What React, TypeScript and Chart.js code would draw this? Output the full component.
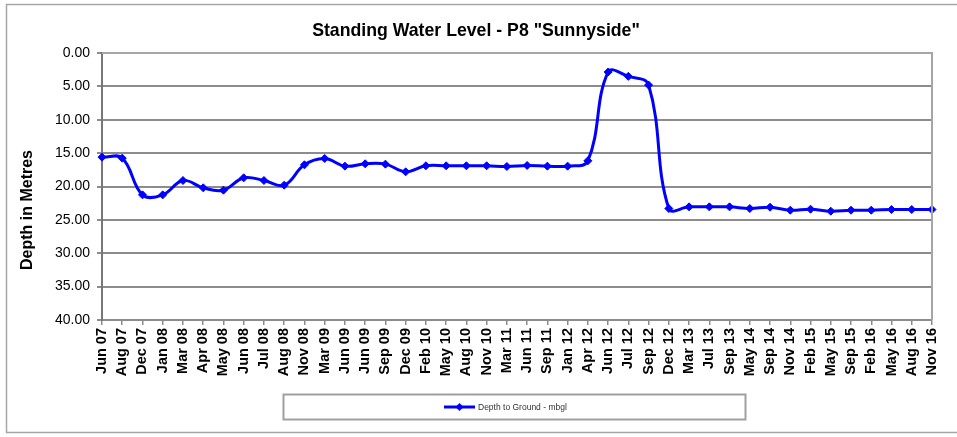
import React, { useEffect, useRef } from "react";
import { Chart, registerables } from "chart.js";

Chart.register(...registerables);

const TITLE = 'Standing Water Level - P8 "Sunnyside"';
const Y_TITLE = "Depth in Metres";
const SERIES_NAME = "Depth to Ground - mbgl";

const categories = [
  "Jun 07", "Aug 07", "Dec 07", "Jan 08", "Mar 08", "Apr 08", "May 08", "Jun 08",
  "Jul 08", "Aug 08", "Nov 08", "Mar 09", "Jun 09", "Jun 09", "Sep 09", "Dec 09",
  "Feb 10", "May 10", "Aug 10", "Nov 10", "Mar 11", "Jun 11", "Sep 11", "Jan 12",
  "Apr 12", "Jun 12", "Jul 12", "Sep 12", "Dec 12", "Mar 13", "Jul 13", "Sep 13",
  "May 14", "Sep 14", "Nov 14", "Feb 15", "May 15", "Sep 15", "Feb 16", "May 16",
  "Aug 16", "Nov 16",
];

const depthValues = [
  15.6, 15.75, 21.25, 21.25, 19.1, 20.2, 20.55, 18.7,
  19.1, 19.8, 16.75, 15.8, 16.95, 16.6, 16.65, 17.8,
  16.9, 16.9, 16.9, 16.9, 17.0, 16.85, 16.95, 16.95,
  16.15, 2.85, 3.5, 4.8, 23.3, 23.05, 23.05, 23.05,
  23.3, 23.1, 23.55, 23.4, 23.7, 23.55, 23.55, 23.45,
  23.45, 23.45,
];

const yMin = 0;
const yMax = 40;
const yStep = 5;

const FONT = "'Liberation Sans', Arial, sans-serif";
const BLUE = "#0000ff";

const decorPlugin = {
  id: "decor",
  beforeDraw(chart: any) {
    const { ctx } = chart;
    ctx.save();
    ctx.fillStyle = "#ffffff";
    ctx.fillRect(0, 0, chart.width, chart.height);
    ctx.restore();
  },
  afterDraw(chart: any) {
    const { ctx, chartArea } = chart;
    ctx.save();
    // outer border
    ctx.strokeStyle = "#a6a6a6";
    ctx.lineWidth = 1.5;
    ctx.strokeRect(6.5, 4.5, chart.width + 10, 428);

    // plot area top/right border
    ctx.strokeStyle = "#a6a6a6";
    ctx.lineWidth = 2;
    ctx.beginPath();
    ctx.moveTo(chartArea.left, chartArea.top);
    ctx.lineTo(chartArea.right, chartArea.top);
    ctx.lineTo(chartArea.right, chartArea.bottom);
    ctx.stroke();

    // title
    ctx.fillStyle = "#000";
    ctx.font = `bold 17.7px ${FONT}`;
    ctx.textAlign = "center";
    ctx.textBaseline = "middle";
    ctx.fillText(TITLE, 476, 31);

    // y title
    ctx.save();
    ctx.translate(28, 210);
    ctx.rotate(-Math.PI / 2);
    ctx.font = `bold 16px ${FONT}`;
    ctx.fillText(Y_TITLE, 0, 0);
    ctx.restore();

    // legend
    ctx.strokeStyle = "#a0a0a0";
    ctx.lineWidth = 2;
    ctx.strokeRect(283.5, 394.5, 462, 25);
    ctx.strokeStyle = BLUE;
    ctx.lineWidth = 3;
    ctx.beginPath();
    ctx.moveTo(444, 407);
    ctx.lineTo(475, 407);
    ctx.stroke();
    ctx.fillStyle = BLUE;
    ctx.beginPath();
    ctx.moveTo(459.5, 403);
    ctx.lineTo(463.5, 407);
    ctx.lineTo(459.5, 411);
    ctx.lineTo(455.5, 407);
    ctx.closePath();
    ctx.fill();
    ctx.fillStyle = "#333";
    ctx.font = `8.5px ${FONT}`;
    ctx.textAlign = "left";
    ctx.fillText(SERIES_NAME, 478, 407.5);
    ctx.restore();
  },
};

export default function App() {
  const canvasRef = useRef<HTMLCanvasElement | null>(null);

  useEffect(() => {
    const canvas = canvasRef.current;
    if (!canvas) return;
    const chart = new Chart(canvas, {
      type: "line",
      data: {
        labels: categories,
        datasets: [
          {
            label: SERIES_NAME,
            data: depthValues,
            borderColor: BLUE,
            backgroundColor: BLUE,
            borderWidth: 3,
            pointStyle: "rectRot",
            pointRadius: 4,
            pointBackgroundColor: BLUE,
            pointBorderColor: BLUE,
            pointBorderWidth: 1,
            tension: 0.4,
            fill: false,
          },
        ],
      },
      options: {
        responsive: false,
        animation: false,
        devicePixelRatio: 1,
        layout: { padding: { top: 53, right: 25, left: 0, bottom: 0 } },
        plugins: {
          legend: { display: false },
          title: { display: false },
          tooltip: { enabled: false },
        },
        scales: {
          x: {
            type: "category",
            offset: false,
            grid: {
              drawOnChartArea: false,
              drawTicks: true,
              tickLength: 5,
              color: "#8c8c8c",
              lineWidth: 1.5,
            },
            border: { display: true, color: "#8c8c8c", width: 2 },
            ticks: {
              autoSkip: false,
              minRotation: 90,
              maxRotation: 90,
              padding: 3,
              color: "#000",
              font: { family: FONT, size: 14.5, weight: "bold" },
            },
            afterFit(scale: any) {
              scale.height = 117;
            },
          },
          y: {
            min: yMin,
            max: yMax,
            reverse: true,
            grid: {
              color: "#8c8c8c",
              lineWidth: 2,
              tickLength: 5,
              drawTicks: true,
            },
            border: { display: true, color: "#777", width: 2 },
            ticks: {
              stepSize: yStep,
              padding: 7,
              color: "#000",
              font: { family: FONT, size: 14 },
              callback: (v: any) => Number(v).toFixed(2),
            },
            afterFit(scale: any) {
              scale.width = 102;
            },
          },
        },
      },
      plugins: [decorPlugin],
    } as any);
    return () => chart.destroy();
  }, []);

  return (
    <div style={{ position: "absolute", left: 0, top: 0, width: 957, height: 437 }}>
      <canvas ref={canvasRef} width={957} height={437} style={{ display: "block" }} />
    </div>
  );
}
